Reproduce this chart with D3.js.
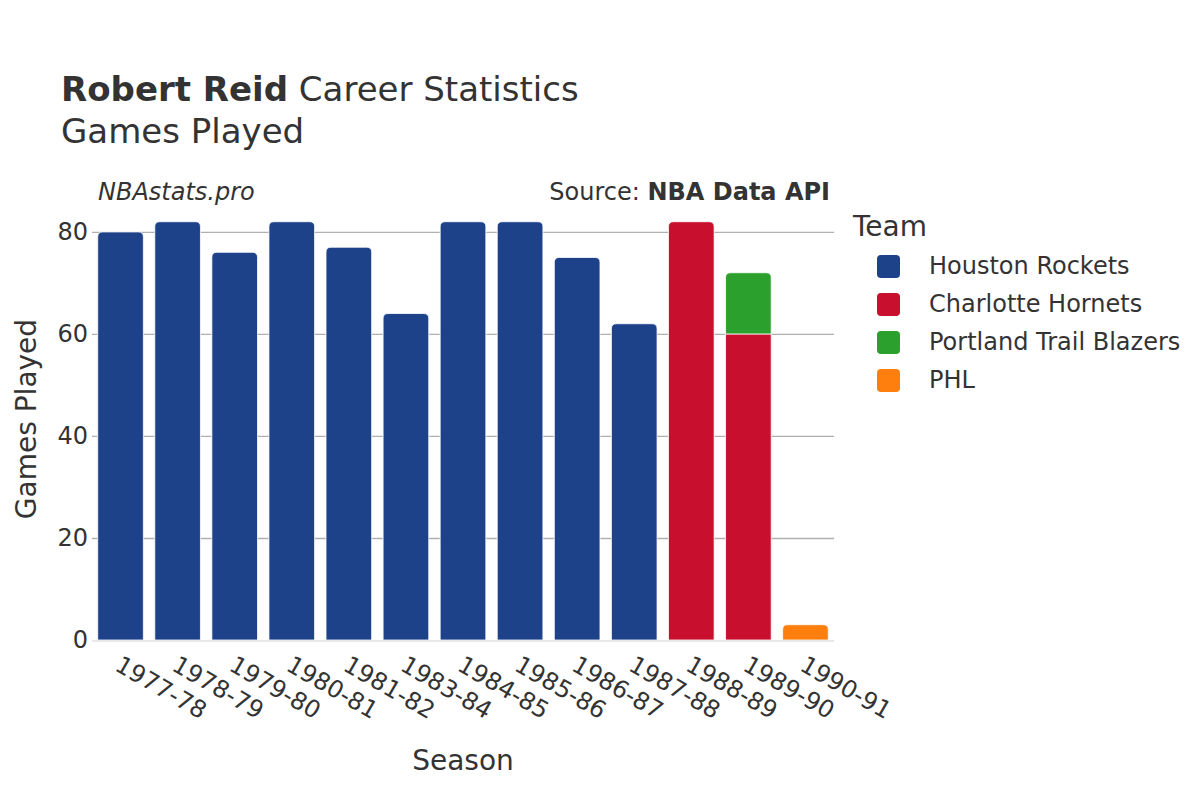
<!DOCTYPE html>
<html>
<head>
<meta charset="utf-8">
<script src="https://cdn.jsdelivr.net/npm/d3@7"></script>
<style>
  body { margin: 0; background: #fff; }
  text { font-family: "DejaVu Sans", sans-serif; fill: #333; }
</style>
</head>
<body>
<svg id="chart" width="1200" height="800"></svg>
<script>
"use strict";

var seasons = ["1977-78", "1978-79", "1979-80", "1980-81", "1981-82", "1983-84",
    "1984-85", "1985-86", "1986-87", "1987-88", "1988-89", "1989-90", "1990-91"];
var teams = ["Houston Rockets", "Charlotte Hornets", "Portland Trail Blazers", "PHL"];
var teamColors = ["#1d428a", "#c8102e", "#2ca02c", "#ff7f0e"];

var houstonGames   = [80, 82, 76, 82, 77, 64, 82, 82, 75, 62, 0, 0, 0];
var charlotteGames = [0, 0, 0, 0, 0, 0, 0, 0, 0, 0, 82, 60, 0];
var portlandGames  = [0, 0, 0, 0, 0, 0, 0, 0, 0, 0, 0, 12, 0];
var phlGames       = [0, 0, 0, 0, 0, 0, 0, 0, 0, 0, 0, 0, 3];
var yTicks = [0, 20, 40, 60, 80];

var series = [houstonGames, charlotteGames, portlandGames, phlGames];

var svg = d3.select("#chart");
var plot = { left: 92, right: 834, top: 210, bottom: 640 };

var x = d3.scaleBand().domain(seasons).range([plot.left, plot.right])
    .paddingInner(0.2).paddingOuter(0.1);
var y = d3.scaleLinear().domain([0, 84.3]).range([plot.bottom, plot.top]);
var color = d3.scaleOrdinal().domain(teams).range(teamColors);

// grid lines
svg.append("g")
    .attr("transform", "translate(" + plot.left + ",0)")
    .call(d3.axisLeft(y).tickValues(yTicks).tickSize(-(plot.right - plot.left)).tickFormat(""))
    .call(function (g) {
        g.select(".domain").remove();
        g.selectAll("line").attr("stroke", "#b0b0b0").attr("stroke-width", 1.3);
        g.selectAll(".tick").filter(function (d) { return d === 0; }).remove();
    });

// y tick labels
svg.append("g")
    .attr("transform", "translate(" + (plot.left - 4) + ",0)")
    .call(d3.axisLeft(y).tickValues(yTicks).tickSize(0).tickPadding(0))
    .call(function (g) {
        g.select(".domain").remove();
        g.selectAll("text").style("font-size", "24px").attr("fill", "#333");
    });

// stacked bars
var rows = seasons.map(function (s, i) {
    var row = { season: s };
    teams.forEach(function (t, k) { row[t] = series[k][i]; });
    return row;
});
var stacked = d3.stack().keys(teams)(rows);

function barPath(x0, y0, w, h, r) {
    r = Math.min(r, h / 2, w / 2);
    return "M" + x0 + "," + (y0 + h) +
        "V" + (y0 + r) +
        "Q" + x0 + "," + y0 + " " + (x0 + r) + "," + y0 +
        "H" + (x0 + w - r) +
        "Q" + (x0 + w) + "," + y0 + " " + (x0 + w) + "," + (y0 + r) +
        "V" + (y0 + h) + "Z";
}

stacked.forEach(function (layer) {
    svg.append("g")
        .selectAll("path")
        .data(layer.filter(function (d) { return d[1] - d[0] > 0; }))
        .join("path")
        .attr("fill", color(layer.key))
        .attr("stroke", "#ffffff")
        .attr("stroke-width", 0.8)
        .attr("d", function (d) {
            var i = seasons.indexOf(d.data.season);
            var total = d3.sum(series, function (s) { return s[i]; });
            var isTop = d[1] >= total;
            return barPath(x(d.data.season), y(d[1]), x.bandwidth(), y(d[0]) - y(d[1]), isTop ? 5 : 0);
        });
});

// zero line
svg.append("line")
    .attr("x1", plot.left).attr("x2", plot.right)
    .attr("y1", y(0) + 1).attr("y2", y(0) + 1)
    .attr("stroke", "#e8e8e8").attr("stroke-width", 2);

// x tick labels
svg.append("g")
    .selectAll("text")
    .data(seasons)
    .join("text")
    .attr("transform", function (d) {
        return "translate(" + (x(d) + x.bandwidth() / 2 + 2) + "," + (plot.bottom + 14) + ") rotate(30)";
    })
    .attr("dy", "0.75em")
    .style("font-size", "24px")
    .text(function (d) { return d; });

// titles
var title = svg.append("text").attr("x", 61).attr("y", 101).style("font-size", "34px");
title.append("tspan").style("font-weight", "bold").text("Robert Reid");
title.append("tspan").text(" Career Statistics");
svg.append("text").attr("x", 61).attr("y", 143).style("font-size", "34px").text("Games Played");

svg.append("text").attr("x", 98).attr("y", 200)
    .style("font-size", "24px").style("font-style", "italic").text("NBAstats.pro");
var src = svg.append("text").attr("x", 830).attr("y", 200)
    .attr("text-anchor", "end").style("font-size", "24px");
src.append("tspan").text("Source: ");
src.append("tspan").style("font-weight", "bold").text("NBA Data API");

svg.append("text")
    .attr("transform", "translate(26,419) rotate(-90)")
    .attr("text-anchor", "middle").attr("dy", "0.35em")
    .style("font-size", "28px").text("Games Played");
svg.append("text").attr("x", 463).attr("y", 770)
    .attr("text-anchor", "middle").style("font-size", "28px").text("Season");

// legend
var legend = svg.append("g");
legend.append("text").attr("x", 853).attr("y", 236).style("font-size", "28px").text("Team");
var items = legend.selectAll("g.item")
    .data(teams)
    .join("g")
    .attr("class", "item")
    .attr("transform", function (d, i) { return "translate(0," + (266 + i * 38) + ")"; });
items.append("rect")
    .attr("x", 877).attr("y", -11).attr("width", 23).attr("height", 23)
    .attr("rx", 4).attr("fill", function (d) { return color(d); });
items.append("text")
    .attr("x", 929).attr("y", 0).attr("dy", "0.35em")
    .style("font-size", "24px")
    .text(function (d) { return d; });
</script>
</body>
</html>
